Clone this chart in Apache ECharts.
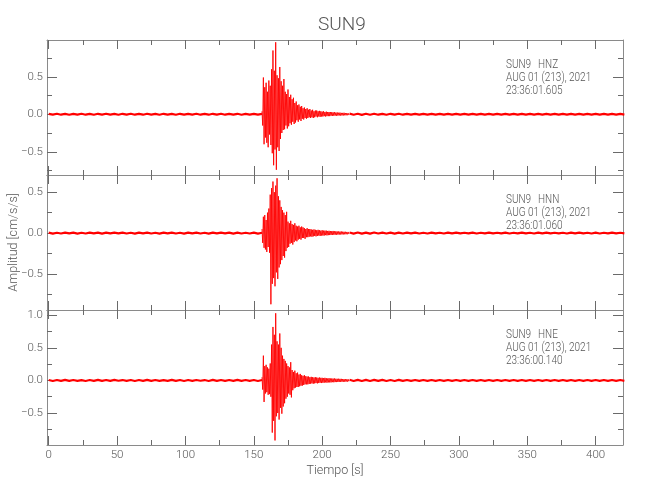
<!DOCTYPE html>
<html><head><meta charset="utf-8">
<script src="https://cdn.jsdelivr.net/npm/echarts@6/dist/echarts.min.js"></script>
<style>html,body{margin:0;padding:0;background:#fff}#c{width:650px;height:500px}</style>
</head><body><div id="c"></div><script>
// ---------- texts ----------
const chartTitle = 'SUN9';
const stationName = 'SUN9';
const channels = ['HNZ', 'HNN', 'HNE'];
const dateLine = 'AUG 01 (213), 2021';
const startTimes = ['23:36:01.605', '23:36:01.060', '23:36:00.140'];
const xLabel = 'Tiempo [s]';
const yLabel = 'Amplitud [cm/s/s]';

// ---------- ticks ----------
const xMajorTicks = [0, 50, 100, 150, 200, 250, 300, 350, 400];
const xMinorTicks = [25, 75, 125, 175, 225, 275, 325, 375];
const xRange = [-1.25, 420];
const yMajorTicks = [[-0.5, 0, 0.5], [-0.5, 0, 0.5], [-0.5, 0, 0.5, 1.0]];
const yMinorTicks = [[-0.75, -0.25, 0.25, 0.75], [-0.75, -0.25, 0.25], [-0.75, -0.25, 0.25, 0.75]];
const yRanges = [[-0.81, 0.99], [-0.94, 0.71], [-0.99, 1.08]];

// ---------- sampling of the traces (seconds) ----------
const preStart = 0, preStep = 3;      // quiet record before the event
const eventStart = 156, eventStep = 0.5;
const postStart = 220, postStep = 3;  // quiet record after the coda

// ---------- HNZ ----------
const hnzPre = [0.006,-0.005,0.007,-0.006,0.004,-0.007,0.005,-0.004,0.007,-0.006,
0.005,-0.007,0.006,-0.004,0.007,-0.005,0.004,-0.007,0.006,-0.005,
0.007,-0.006,0.004,-0.006,0.007,-0.004,0.005,-0.007,0.006,-0.005,
0.004,-0.007,0.006,-0.005,0.006,-0.004,0.007,-0.006,0.005,-0.006,
0.006,-0.005,0.007,-0.006,0.004,-0.005,0.006,-0.007,0.005,-0.004,
0.006,-0.005,0.004];
const hnzEvent = [0.04,-0.15,0.49,-0.40,0.36,-0.31,0.42,-0.38,0.30,-0.44,
0.45,-0.27,0.38,-0.41,0.60,-0.52,0.85,-0.68,0.58,-0.47,
0.96,-0.74,0.52,-0.44,0.48,-0.49,0.63,-0.33,0.44,-0.25,
0.38,-0.21,0.47,-0.20,0.30,-0.15,0.27,-0.19,0.33,-0.16,
0.23,-0.12,0.26,-0.14,0.20,-0.10,0.22,-0.13,0.15,-0.11,
0.17,-0.08,0.12,-0.10,0.13,-0.07,0.10,-0.09,0.11,-0.06,
0.08,-0.07,0.09,-0.05,0.07,-0.06,0.08,-0.05,
0.06,-0.04,0.07,-0.05,0.05,-0.04,0.06,-0.05,0.04,-0.04,
0.05,-0.03,0.05,-0.04,0.04,-0.03,0.045,-0.035,0.04,-0.03,
0.035,-0.03,0.04,-0.025,0.03,-0.03,0.035,-0.025,0.03,-0.025,
0.03,-0.025,0.03,-0.02,0.028,-0.022,0.025,-0.02,0.028,-0.018,
0.022,-0.02,0.024,-0.018,0.02,-0.016,0.022,-0.018,0.018,-0.016,
0.018,-0.016,0.02,-0.014,0.016,-0.014,0.016,-0.013,0.014,-0.012];
const hnzPost = [0.008,-0.007,0.007,-0.008,0.006,-0.007,0.007,-0.006,0.005,-0.007,
0.006,-0.005,0.007,-0.006,0.005,-0.006,0.004,-0.006,0.005,-0.004,
0.006,-0.005,0.004,-0.006,0.005,-0.004,0.006,-0.005,0.004,-0.006,
0.005,-0.004,0.006,-0.005,0.004,-0.005,0.006,-0.004,0.005,-0.006,
0.004,-0.005,0.006,-0.004,0.005,-0.006,0.004,-0.005,0.006,-0.004,
0.005,-0.006,0.004,-0.005,0.006,-0.005,0.004,-0.006,0.005,-0.004,
0.006,-0.005,0.004,-0.006,0.005,-0.004,0.006,-0.005];

// ---------- HNN ----------
const hnnPre = [0.005,-0.006,0.004,-0.005,0.006,-0.004,0.005,-0.006,0.004,-0.005,
0.006,-0.004,0.005,-0.006,0.005,-0.004,0.006,-0.004,0.005,-0.005,
0.004,-0.006,0.006,-0.004,0.005,-0.005,0.004,-0.006,0.006,-0.004,
0.005,-0.005,0.004,-0.006,0.006,-0.004,0.005,-0.005,0.004,-0.006,
0.006,-0.004,0.005,-0.004,0.005,-0.006,0.006,-0.005,0.004,-0.005,
0.005,-0.006,0.004];
const hnnEvent = [0.05,-0.12,0.20,-0.18,0.22,-0.20,0.16,-0.23,0.25,-0.17,
0.30,-0.24,0.47,-0.87,0.55,-0.62,0.63,-0.55,0.50,-0.65,
0.58,-0.48,0.67,-0.56,0.45,-0.42,0.40,-0.38,0.32,-0.33,
0.28,-0.28,0.25,-0.30,0.22,-0.22,0.26,-0.18,0.14,-0.17,
0.12,-0.13,0.15,-0.12,0.11,-0.14,0.10,-0.11,0.12,-0.09,
0.09,-0.10,0.08,-0.08,0.09,-0.07,0.07,-0.08,0.08,-0.06,
0.07,-0.06,0.06,-0.07,0.05,-0.05,0.06,-0.05,
0.05,-0.045,0.05,-0.04,0.045,-0.045,0.04,-0.04,0.045,-0.035,
0.04,-0.04,0.035,-0.035,0.04,-0.03,0.035,-0.035,0.03,-0.03,
0.035,-0.03,0.03,-0.03,0.03,-0.025,0.03,-0.028,0.026,-0.025,
0.028,-0.024,0.025,-0.022,0.024,-0.022,0.026,-0.02,0.022,-0.02,
0.022,-0.02,0.02,-0.018,0.02,-0.018,0.018,-0.017,0.02,-0.016,
0.017,-0.016,0.016,-0.015,0.016,-0.014,0.014,-0.014,0.014,-0.012];
const hnnPost = [0.008,-0.007,0.007,-0.007,0.006,-0.006,0.007,-0.005,0.006,-0.005,
0.005,-0.006,0.005,-0.005,0.006,-0.004,0.005,-0.005,0.004,-0.005,
0.005,-0.004,0.004,-0.005,0.005,-0.004,0.005,-0.004,0.004,-0.004,
0.005,-0.005,0.004,-0.004,0.005,-0.004,0.004,-0.004,0.005,-0.005,
0.004,-0.004,0.005,-0.004,0.004,-0.005,0.005,-0.004,0.005,-0.004,
0.004,-0.004,0.004,-0.005,0.005,-0.004,0.005,-0.004,0.004,-0.005,
0.005,-0.005,0.004,-0.004,0.005,-0.004,0.004,-0.004];

// ---------- HNE ----------
const hnePre = [0.007,-0.008,0.006,-0.007,0.008,-0.006,0.007,-0.007,0.005,-0.008,
0.007,-0.006,0.008,-0.007,0.006,-0.007,0.008,-0.005,0.006,-0.007,
0.007,-0.008,0.006,-0.006,0.008,-0.006,0.007,-0.007,0.005,-0.007,
0.008,-0.006,0.007,-0.008,0.006,-0.007,0.007,-0.005,0.006,-0.008,
0.008,-0.006,0.006,-0.007,0.007,-0.007,0.008,-0.006,0.006,-0.006,
0.007,-0.008,0.006];
const hneEvent = [0.05,-0.14,0.38,-0.33,0.22,-0.20,0.24,-0.18,0.20,-0.22,
0.18,-0.21,0.26,-0.25,0.55,-0.80,0.82,-0.62,0.70,-0.92,
1.03,-0.55,0.60,-0.50,0.55,-0.60,0.72,-0.42,0.50,-0.51,
0.38,-0.40,0.33,-0.35,0.30,-0.28,0.26,-0.25,0.22,-0.20,
0.20,-0.22,0.28,-0.26,0.16,-0.15,0.13,-0.12,0.15,-0.11,
0.11,-0.10,0.12,-0.10,0.09,-0.09,0.10,-0.08,0.08,-0.08,
0.07,-0.07,0.08,-0.06,0.065,-0.06,0.06,-0.06,
0.06,-0.055,0.05,-0.05,0.055,-0.045,0.05,-0.05,0.045,-0.045,
0.05,-0.04,0.045,-0.045,0.04,-0.04,0.045,-0.035,0.04,-0.04,
0.04,-0.035,0.035,-0.035,0.04,-0.03,0.035,-0.035,0.03,-0.03,
0.035,-0.03,0.03,-0.03,0.03,-0.026,0.028,-0.028,0.03,-0.025,
0.026,-0.025,0.025,-0.024,0.026,-0.022,0.024,-0.022,0.024,-0.02,
0.022,-0.02,0.02,-0.02,0.02,-0.018,0.018,-0.018,0.018,-0.016];
const hnePost = [0.010,-0.009,0.009,-0.009,0.008,-0.008,0.009,-0.007,0.008,-0.008,
0.007,-0.008,0.008,-0.007,0.007,-0.007,0.006,-0.007,0.007,-0.006,
0.007,-0.006,0.006,-0.007,0.007,-0.006,0.007,-0.006,0.006,-0.007,
0.006,-0.007,0.007,-0.006,0.006,-0.007,0.007,-0.006,0.006,-0.007,
0.006,-0.006,0.007,-0.007,0.006,-0.006,0.006,-0.007,0.007,-0.006,
0.006,-0.006,0.007,-0.006,0.006,-0.007,0.006,-0.006,0.007,-0.006,
0.007,-0.006,0.006,-0.007,0.006,-0.006,0.007,-0.006];

const traces = [[hnzPre, hnzEvent, hnzPost], [hnnPre, hnnEvent, hnnPost], [hnePre, hneEvent, hnePost]];

// ---------- build ----------
const seg = (arr, t0, dt) => arr.map((v, i) => [t0 + i * dt, v]);

const FONT = "Roboto, 'Liberation Sans', sans-serif";
const FRAME = '#8a8a8a', TICK = '#6a6a6a', TXT = '#555';
const gridTops = [40, 175, 310], gridH = 135, gridLeft = 47, gridRight = 27;

const grids = [], xAxes = [], yAxes = [], series = [], graphics = [];
const fmtY = v => (v < 0 ? '\u2212' : '') + Math.abs(v).toFixed(1);

for (let p = 0; p < 3; p++) {
  grids.push({ left: gridLeft, right: gridRight, top: gridTops[p], height: gridH, containLabel: false, outerBoundsMode: 'none' });
  const xBase = { type: 'value', gridIndex: p, min: xRange[0], max: xRange[1], splitLine: { show: false } };
  const isLast = p === 2;
  xAxes.push(Object.assign({}, xBase, {
    position: 'bottom',
    axisLine: { show: true, onZero: false, lineStyle: { color: FRAME, width: 1 } },
    axisTick: { show: true, inside: true, length: 9, customValues: xMajorTicks, lineStyle: { color: TICK } },
    axisLabel: { show: isLast, customValues: xMajorTicks, margin: 4, color: TXT, fontSize: 11.5, fontWeight: 300, fontFamily: FONT },
    name: isLast ? xLabel : '', nameLocation: 'middle', nameGap: 19, nameMoveOverlap: false,
    nameTextStyle: { color: TXT, fontSize: 12.5, fontWeight: 300, fontFamily: FONT }
  }));
  xAxes.push(Object.assign({}, xBase, {
    position: 'bottom',
    axisLine: { show: false, onZero: false },
    axisTick: { show: true, inside: true, length: 5, customValues: xMinorTicks, lineStyle: { color: TICK } },
    axisLabel: { show: false }
  }));
  xAxes.push(Object.assign({}, xBase, {
    position: 'top',
    axisLine: { show: true, onZero: false, lineStyle: { color: FRAME, width: 1 } },
    axisTick: { show: true, inside: true, length: 9, customValues: xMajorTicks, lineStyle: { color: TICK } },
    axisLabel: { show: false }
  }));
  xAxes.push(Object.assign({}, xBase, {
    position: 'top',
    axisLine: { show: false, onZero: false },
    axisTick: { show: true, inside: true, length: 5, customValues: xMinorTicks, lineStyle: { color: TICK } },
    axisLabel: { show: false }
  }));

  const yBase = { type: 'value', gridIndex: p, min: yRanges[p][0], max: yRanges[p][1], splitLine: { show: false } };
  yAxes.push(Object.assign({}, yBase, {
    position: 'left',
    axisLine: { show: true, onZero: false, lineStyle: { color: FRAME, width: 1 } },
    axisTick: { show: true, inside: true, length: 10, customValues: yMajorTicks[p], lineStyle: { color: TICK } },
    axisLabel: { show: true, customValues: yMajorTicks[p], formatter: fmtY, margin: 4, color: TXT, fontSize: 11.5, fontWeight: 300, fontFamily: FONT },
    name: p === 1 ? yLabel : '', nameLocation: 'middle', nameGap: 27, nameMoveOverlap: false,
    nameTextStyle: { color: TXT, fontSize: 12.5, fontWeight: 300, fontFamily: FONT }
  }));
  yAxes.push(Object.assign({}, yBase, {
    position: 'left',
    axisLine: { show: false, onZero: false },
    axisTick: { show: true, inside: true, length: 5, customValues: yMinorTicks[p], lineStyle: { color: TICK } },
    axisLabel: { show: false }
  }));
  yAxes.push(Object.assign({}, yBase, {
    position: 'right',
    axisLine: { show: true, onZero: false, lineStyle: { color: FRAME, width: 1 } },
    axisTick: { show: true, inside: true, length: 10, customValues: yMajorTicks[p], lineStyle: { color: TICK } },
    axisLabel: { show: false }
  }));
  yAxes.push(Object.assign({}, yBase, {
    position: 'right',
    axisLine: { show: false, onZero: false },
    axisTick: { show: true, inside: true, length: 5, customValues: yMinorTicks[p], lineStyle: { color: TICK } },
    axisLabel: { show: false }
  }));

  const common = { type: 'line', xAxisIndex: 4 * p, yAxisIndex: 4 * p, showSymbol: false, symbol: 'none',
    clip: true, animation: false, silent: true };
  series.push(Object.assign({}, common, { data: seg(traces[p][0], preStart, preStep), lineStyle: { color: '#ff0000', width: 2.2 } }));
  series.push(Object.assign({}, common, { data: seg(traces[p][1], eventStart, eventStep), lineStyle: { color: '#ff0000', width: 0.9 } }));
  series.push(Object.assign({}, common, { data: seg(traces[p][2], postStart, postStep), lineStyle: { color: '#ff0000', width: 2.2 } }));

  const ty = gridTops[p];
  const tstyle = { fill: TXT, fontSize: 12.5, fontWeight: 300, fontFamily: FONT, verticalAlign: 'middle', align: 'left' };
  const sx = 0.8;
  graphics.push({ type: 'text', x: 506, y: ty + 25, scaleX: sx, style: Object.assign({ text: stationName }, tstyle) });
  graphics.push({ type: 'text', x: 538, y: ty + 25, scaleX: sx, style: Object.assign({ text: channels[p] }, tstyle) });
  graphics.push({ type: 'text', x: 506, y: ty + 38, scaleX: sx, style: Object.assign({ text: dateLine }, tstyle) });
  graphics.push({ type: 'text', x: 506, y: ty + 51, scaleX: sx, style: Object.assign({ text: startTimes[p] }, tstyle) });
}

const chart = echarts.init(document.getElementById('c'), null, { renderer: 'canvas' });
chart.setOption({
  animation: false,
  backgroundColor: '#fff',
  title: { text: chartTitle, left: 337, top: 11, textAlign: 'center',
    textStyle: { color: TXT, fontSize: 19, fontWeight: 300, fontFamily: FONT } },
  grid: grids, xAxis: xAxes, yAxis: yAxes, series: series, graphic: graphics
});
</script></body></html>
